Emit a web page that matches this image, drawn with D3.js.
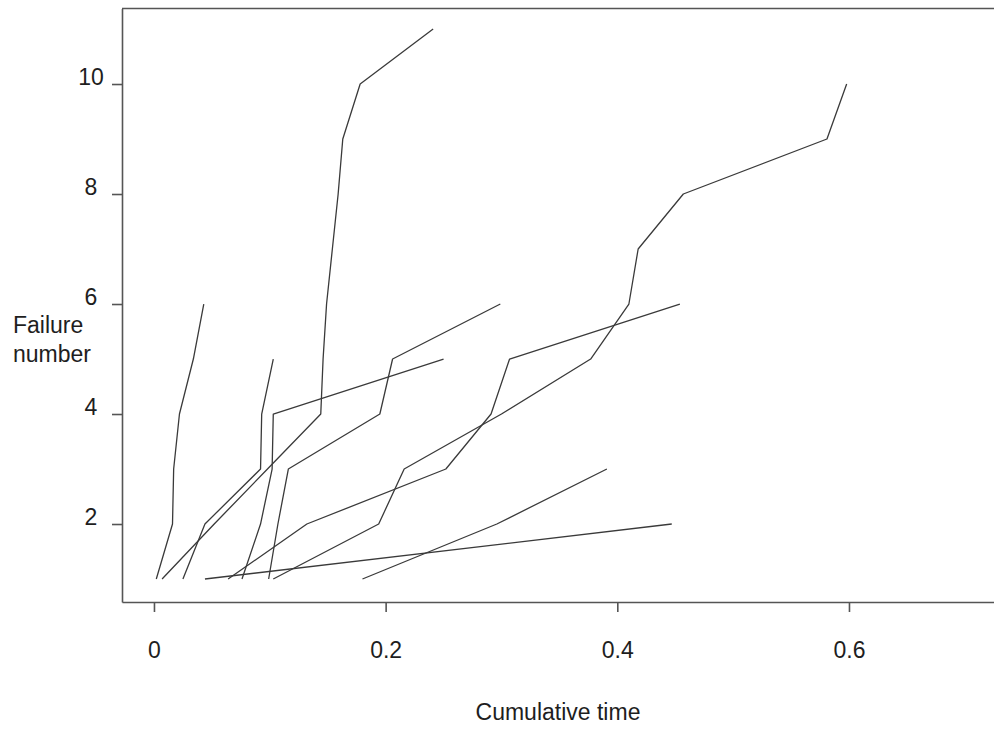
<!DOCTYPE html>
<html>
<head>
<meta charset="utf-8">
<title>Failure number vs cumulative time</title>
<script src="https://cdn.jsdelivr.net/npm/d3@7"></script>
<style>
    body { margin: 0; background: #fff; }
    #chart-area { width: 994px; height: 730px; }
    text { font-family: "Liberation Sans", Arial, sans-serif; fill: #1e1e1e; }
</style>
</head>
<body>
<div id="chart-area"></div>
<script>

// Cumulative failure times for each unit (failure number = position + 1)
const unitA = [0.002, 0.016, 0.017, 0.022, 0.034, 0.043];
const unitB = [0.007, 0.052, 0.098, 0.144, 0.146, 0.149, 0.154, 0.159, 0.163, 0.178, 0.241];
const unitC = [0.025, 0.044, 0.092, 0.093, 0.103];
const unitD = [0.044, 0.447];
const unitE = [0.064, 0.132, 0.252, 0.291, 0.307, 0.454];
const unitF = [0.076, 0.092, 0.102, 0.103, 0.250];
const unitG = [0.099, 0.107, 0.116, 0.195, 0.206, 0.299];
const unitH = [0.103, 0.194, 0.216, 0.300, 0.377, 0.410, 0.418, 0.457, 0.581, 0.598];
const unitI = [0.180, 0.296, 0.391];

// Tick labels
const xTickValues = [0, 0.2, 0.4, 0.6];
const yTickValues = [2, 4, 6, 8, 10];

// Axis titles
const xTitle = "Cumulative time";
const yTitle = ["Failure", "number"];


/* * * * * * * * * * * * * *
*        FailureVis        *
* * * * * * * * * * * * * */

class FailureVis {

    constructor(parentElement, units) {
        this.parentElement = parentElement;
        this.units = units;

        this.initVis();
    }

    initVis() {
        let vis = this;

        vis.width = 994;
        vis.height = 730;

        vis.svg = d3.select(`#${vis.parentElement}`).append("svg")
            .attr("width", vis.width)
            .attr("height", vis.height);

        // Scales span the whole plot box (axis lines sit on the range ends)
        vis.xScale = d3.scaleLinear().domain([-0.0276, 0.7252]).range([122, 994]);
        vis.yScale = d3.scaleLinear().domain([0.582, 11.373]).range([602, 8.5]);

        vis.xAxis = d3.axisBottom(vis.xScale)
            .tickValues(xTickValues)
            .tickFormat(d => d === 0 ? "0" : d3.format(".1f")(d))
            .tickSizeInner(10)
            .tickSizeOuter(0);

        vis.yAxis = d3.axisLeft(vis.yScale)
            .tickValues(yTickValues)
            .tickFormat(d3.format("d"))
            .tickSizeInner(10)
            .tickSizeOuter(0);

        // top border of the frame
        vis.svg.append("line")
            .attr("x1", vis.xScale.range()[0])
            .attr("x2", vis.xScale.range()[1])
            .attr("y1", vis.yScale.range()[1])
            .attr("y2", vis.yScale.range()[1])
            .attr("stroke", "#555")
            .attr("stroke-width", 1.6);

        vis.svg.append("g")
            .attr("class", "x-axis")
            .attr("transform", `translate(0,${vis.yScale.range()[0]})`);

        vis.svg.append("g")
            .attr("class", "y-axis")
            .attr("transform", `translate(${vis.xScale.range()[0]},0)`);

        // Axis titles
        vis.svg.append("text")
            .attr("x", 558)
            .attr("y", 720)
            .attr("text-anchor", "middle")
            .style("font-size", "23px")
            .text(xTitle);

        vis.svg.append("text")
            .attr("x", 13)
            .attr("y", 333)
            .style("font-size", "23px")
            .selectAll("tspan")
            .data(yTitle)
            .enter().append("tspan")
            .attr("x", 13)
            .attr("dy", (d, i) => i === 0 ? 0 : 28.5)
            .text(d => d);

        vis.line = d3.line()
            .x(d => vis.xScale(d.time))
            .y(d => vis.yScale(d.failure));

        vis.wrangleData();
    }

    wrangleData() {
        let vis = this;

        vis.displayData = vis.units.map(times => times.map((t, i) => ({time: t, failure: i + 1})));

        vis.updateVis();
    }

    updateVis() {
        let vis = this;

        vis.svg.select(".x-axis").call(vis.xAxis);
        vis.svg.select(".y-axis").call(vis.yAxis);

        // style axes like the original S-PLUS frame
        vis.svg.selectAll(".x-axis path, .y-axis path, .x-axis line, .y-axis line")
            .attr("stroke", "#555")
            .attr("stroke-width", 1.6);

        vis.svg.selectAll(".x-axis text")
            .attr("y", 56)
            .attr("dy", 0)
            .style("font-size", "23px")
            .style("font-family", "'Liberation Sans', Arial, sans-serif")
            .attr("fill", "#1e1e1e");

        // y labels are centred left of the ticks with the baseline on the tick
        vis.svg.selectAll(".y-axis text")
            .attr("x", -31)
            .attr("dy", 0)
            .attr("text-anchor", "middle")
            .style("font-size", "23px")
            .style("font-family", "'Liberation Sans', Arial, sans-serif")
            .attr("fill", "#1e1e1e");

        vis.paths = vis.svg.selectAll(".unit-line")
            .data(vis.displayData);

        vis.paths.enter().append("path")
            .attr("class", "unit-line")
            .merge(vis.paths)
            .attr("d", vis.line)
            .attr("fill", "none")
            .attr("stroke", "#3a3a3a")
            .attr("stroke-width", 1.3)
            .attr("stroke-linejoin", "round");

        vis.paths.exit().remove();
    }
}

new FailureVis("chart-area", [unitA, unitB, unitC, unitD, unitE, unitF, unitG, unitH, unitI]);

</script>
</body>
</html>
